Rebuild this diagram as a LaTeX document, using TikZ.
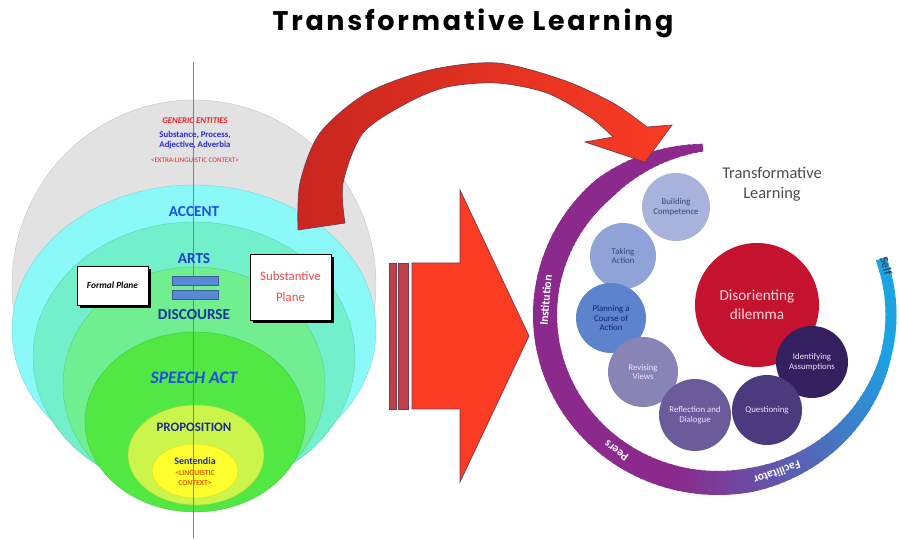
\documentclass[tikz,border=0pt]{standalone}
\usepackage{fontspec}
\setsansfont{Carlito}
\newfontfamily\headfont{Poppins}[LetterSpace=10]
\usepackage{xcolor}
\usetikzlibrary{calc,positioning}
% left layers
\definecolor{lgrey}{HTML}{E2E2E2}
\definecolor{lcyan}{HTML}{8CF9F9}
\definecolor{laqua}{HTML}{72F0CC}
\definecolor{lgreen}{HTML}{70EE90}
\definecolor{lbright}{HTML}{52E844}
\definecolor{lyg}{HTML}{CCF54C}
\definecolor{lyellow}{HTML}{FFFF2E}
% left texts
\definecolor{gred}{HTML}{E8242C}
\definecolor{sblue}{HTML}{2A2AD8}
\definecolor{accblue}{HTML}{1E4FE6}
\definecolor{artblue}{HTML}{1E3FC8}
\definecolor{disblue}{HTML}{173896}
\definecolor{navy}{HTML}{1C2B8E}
\definecolor{lorange}{HTML}{F05A00}
\definecolor{barblue}{HTML}{5A88D8}
\definecolor{subred}{HTML}{F04848}
% arrows
\definecolor{arrowred}{HTML}{FA3C23}
\definecolor{curvdark}{HTML}{C8261E}
\definecolor{arrowedge}{HTML}{7A3A50}
\definecolor{stripe}{HTML}{C0404A}
% cycle
\definecolor{ringpurple}{HTML}{8B2A8C}
\definecolor{ringblue}{HTML}{1BA3E3}
\definecolor{bcomp}{HTML}{A8B3DB}
\definecolor{btake}{HTML}{8FA3D8}
\definecolor{bplan}{HTML}{5C84CC}
\definecolor{brevi}{HTML}{8884B6}
\definecolor{brefl}{HTML}{6B5B9B}
\definecolor{bques}{HTML}{4B3A7E}
\definecolor{bident}{HTML}{34205F}
\definecolor{bdil}{HTML}{C4122F}
\definecolor{dark}{HTML}{3A4670}
\tikzset{
  layer/.style={draw=#1!85!black, line width=0.3pt, fill=#1},
  lvl/.style={font=\sffamily\bfseries, inner sep=1pt, align=center},
  planebox/.style={draw=black, fill=white, line width=0.7pt, inner sep=2pt, align=center},
  eqbar/.style={draw=barblue!70!black, fill=barblue, minimum width=1.38cm, minimum height=0.28cm, inner sep=0pt},
  bub/.style={circle, inner sep=0pt, align=center, font=\sffamily\fontsize{7.5}{8.5}\selectfont},
  ringlbl/.style={font=\sffamily\bfseries\fontsize{10}{11}\selectfont, text=white, inner sep=0pt},
  bigarrow/.style={fill=arrowred, draw=arrowedge, line width=0.6pt},
}
\begin{document}
\begin{tikzpicture}[x=0.03cm,y=0.03cm]
  \useasboundingbox (0,0) rectangle (899,540);
  \node[font=\headfont\bfseries\fontsize{23}{26}\selectfont] (title) at (473,517) {Transformative Learning};

  % nested layers
  \filldraw[layer=lgrey] (194,255) ellipse [x radius=182, y radius=185];
  \filldraw[layer=lcyan] (194,210) ellipse [x radius=182, y radius=145];
  \filldraw[layer=laqua] (194,183) ellipse [x radius=161, y radius=135];
  \filldraw[layer=lgreen] (194,155) ellipse [x radius=131, y radius=118];
  \filldraw[layer=lbright] (195,118) ellipse [x radius=110, y radius=90];
  \filldraw[layer=lyg] (196,85) ellipse [x radius=68, y radius=50];
  \filldraw[layer=lyellow] (195,69) ellipse [x radius=43, y radius=27];
  \coordinate (vtop) at (193,478);
  \coordinate (vbot) at (193,2);
  \draw[gray, line width=0.8pt] (vtop) -- (vbot);

  \node[lvl, font=\sffamily\bfseries\itshape\fontsize{7.5}{8}\selectfont, text=gred] (generic) at (195,419) {GENERIC ENTITIES};
  \node[lvl, font=\sffamily\bfseries\fontsize{7.5}{8.5}\selectfont, text=sblue] (subst) at (195,400) {Substance, Process,\\Adjective, Adverbia};
  \node[lvl, font=\sffamily\fontsize{6}{7}\selectfont, text=gred] (extra) at (195,380) {<EXTRA-LINGUISTIC CONTEXT>};
  \node[lvl, font=\sffamily\bfseries\fontsize{13}{14}\selectfont, text=accblue] (accent) at (194,328) {ACCENT};
  \node[lvl, font=\sffamily\bfseries\fontsize{13}{14}\selectfont, text=artblue] (arts) at (194,281) {ARTS};
  \node[eqbar] (eq1) at (195,259) {};
  \node[eqbar] (eq2) at (195,245) {};
  \node[lvl, font=\sffamily\bfseries\fontsize{13}{14}\selectfont, text=disblue] (discourse) at (194,225) {DISCOURSE};
  \node[lvl, font=\sffamily\bfseries\itshape\fontsize{15}{16}\selectfont, text=accblue] (speech) at (194,162) {SPEECH ACT};
  \node[lvl, font=\sffamily\bfseries\fontsize{11}{12}\selectfont, text=navy] (prop) at (194,113) {PROPOSITION};
  \node[lvl, font=\sffamily\bfseries\fontsize{8.5}{9}\selectfont, text=navy] (sent) at (195,79) {Sentendia};
  \node[lvl, font=\sffamily\bfseries\fontsize{6.5}{8}\selectfont, text=lorange] (ling) at (195,62) {<LINGUISTIC\\CONTEXT>};

  \node[planebox, minimum width=2.13cm, minimum height=1.17cm, font=\sffamily\bfseries\itshape\fontsize{8}{9}\selectfont] (formal) at (112.5,254.5) {Formal Plane};
  \fill[black] ($(formal.south west)+(3,-3)$) rectangle ($(formal.south east)+(3,0)$);
  \fill[black] ($(formal.south east)+(0,-3)$) rectangle ($(formal.north east)+(3,-3)$);
  \node[planebox, minimum width=2.43cm, minimum height=1.98cm, font=\sffamily\fontsize{11}{18}\selectfont, text=subred] (subplane) at (290.5,253) {Substantive\\Plane};
  \fill[black] ($(subplane.south west)+(3,-3)$) rectangle ($(subplane.south east)+(3,0)$);
  \fill[black] ($(subplane.south east)+(0,-3)$) rectangle ($(subplane.north east)+(3,-3)$);

  % block arrow
  \filldraw[stripe, draw=arrowedge, line width=0.3pt] (389,131) rectangle (396,277);
  \filldraw[stripe, draw=arrowedge, line width=0.3pt] (398,131) rectangle (408,277);
  \filldraw[bigarrow] (412,277) -- (460,277) -- (460,350) -- (529,204) -- (460,58) -- (460,131) -- (412,131) -- cycle;

  % ring
  \coordinate (ringc) at (718,225);
  \foreach \a in {95,97,...,377}{
    \pgfmathsetmacro\mixp{max(0,min(100,(\a-255)*1.1))}
    \pgfmathsetmacro\ringw{0.8536*(\a<130 ? 8+(\a-95)*0.457 : (\a<280 ? 24 : (\a<345 ? 24-(\a-280)*0.2 : 11)))}
    \colorlet{segc}{ringblue!\mixp!ringpurple}
    \draw[line width=\ringw pt, segc] ($(ringc)+(\a:173 and 168)$) arc[start angle=\a, end angle=\a+2.6, x radius=173, y radius=168];
  }
  \foreach \ang/\txt/\nm in {175/Institution/inst, 234/Peers/peers, 290/Facilitator/facil}{
    \node[ringlbl, rotate=\ang-90] (\nm) at ($(ringc)+(\ang:173 and 168)$) {\txt};
  }
  \node[ringlbl, text=dark, rotate=-73] (self) at ($(ringc)+(17:176 and 168)$) {Self};

  \node[font=\sffamily\fontsize{14}{17}\selectfont, text=black!70, align=center] (tltitle) at (772,356) {Transformative\\Learning};
  \node[bub, fill=bdil, minimum size=3.72cm, text=red!15, font=\sffamily\fontsize{13}{16}\selectfont] (dd) at (757,235) {Disorienting\\dilemma};
  \node[bub, fill=bcomp, minimum size=2.04cm, text=dark] (bc) at (676,333) {Building\\Competence};
  \node[bub, fill=btake, minimum size=1.98cm, text=dark] (ta) at (623,284) {Taking\\Action};
  \node[bub, fill=bplan, minimum size=2.1cm, text=navy!80!black] (pc) at (611,222) {Planning a\\Course of\\Action};
  \node[bub, fill=brevi, minimum size=2.1cm, text=white!90!blue] (rv) at (643,168) {Revising\\Views};
  \node[bub, fill=brefl, minimum size=2.16cm, text=white!90!blue] (rd) at (695,125) {Reflection and\\Dialogue};
  \node[bub, fill=bident, minimum size=2.16cm, text=white!90!blue] (ia) at (812,178) {Identifying\\Assumptions};
  \node[bub, fill=bques, minimum size=2.1cm, text=white!90!blue] (qu) at (767,130) {Questioning};

  % curved arrow
  \shadedraw[left color=curvdark, right color=arrowred, draw=arrowedge, line width=0.6pt]
    plot[smooth] coordinates {(298,310) (300,357) (320,407) (367,447) (430,470) (497,477) (563,460) (613,437) (647,413)}
    -- (672,415) -- (645,378) -- (585,398)
    -- plot[smooth] coordinates {(613,403) (590,423) (547,447) (497,457) (447,453) (407,437) (363,407) (343,357) (345,317)}
    -- cycle;
\end{tikzpicture}
\end{document}
